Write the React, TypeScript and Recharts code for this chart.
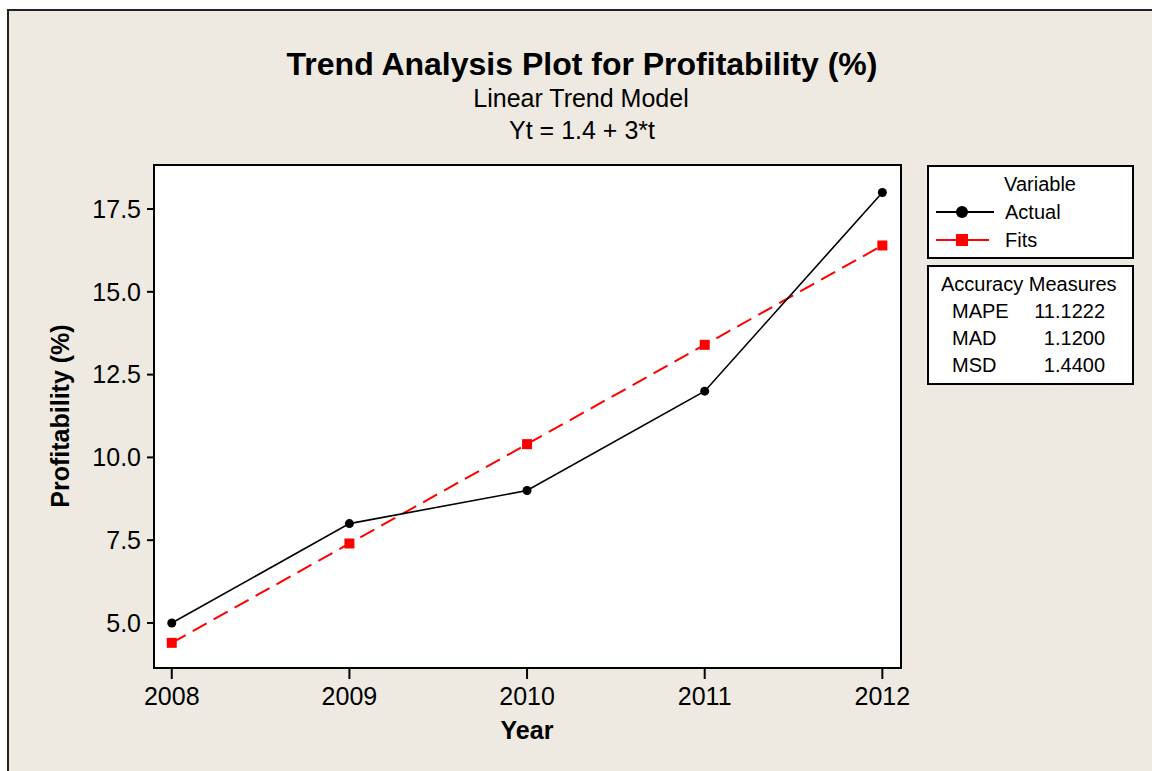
import { LineChart, Line, XAxis, YAxis } from 'recharts';

// values
const years = [2008, 2009, 2010, 2011, 2012];
const actual = [5, 8, 9, 12, 18];
const fits = [4.4, 7.4, 10.4, 13.4, 16.4];
const yTicks = [5, 7.5, 10, 12.5, 15, 17.5];
const accuracyNames = ['MAPE', 'MAD', 'MSD'];
const accuracyValues = ['11.1222', '1.1200', '1.4400'];

const FONT = "'Liberation Sans', Arial, sans-serif";
const BG = '#EEEAE1';

const data = years.map((y, i) => ({ year: y, actual: actual[i], fits: fits[i] }));

const SquareDot = (props: any) => {
    const { cx, cy, index } = props;
    if (cx == null || cy == null) return null;
    return <rect key={`sq-${index}`} x={cx - 5} y={cy - 5} width={10} height={10} fill="#FF0000" />;
};

export default function App() {
    return (
        <div style={{ position: 'absolute', left: 0, top: 0, width: 1152, height: 771, background: '#fff', fontFamily: FONT }}>
            <svg width={1152} height={771} style={{ position: 'absolute', left: 0, top: 0 }}>
                {/* outer frame */}
                <rect x={8} y={10} width={1160} height={780} fill={BG} stroke="#222" strokeWidth={2} />
                {/* plot area */}
                <rect x={154} y={165} width={747} height={503} fill="#fff" stroke="#000" strokeWidth={2} />

                <text x={582} y={75} textAnchor="middle" fontSize={32} fontWeight="bold" fontFamily={FONT}>
                    Trend Analysis Plot for Profitability (%)
                </text>
                <text x={581} y={107} textAnchor="middle" fontSize={25} fontFamily={FONT}>Linear Trend Model</text>
                <text x={582} y={139} textAnchor="middle" fontSize={25} fontFamily={FONT}>Yt = 1.4 + 3*t</text>

                {/* axis titles */}
                <text x={527} y={739} textAnchor="middle" fontSize={25} fontWeight="bold" fontFamily={FONT}>Year</text>
                <text
                    x={0}
                    y={0}
                    transform="translate(69 416) rotate(-90)"
                    textAnchor="middle"
                    fontSize={25}
                    fontWeight="bold"
                    fontFamily={FONT}
                >
                    Profitability (%)
                </text>

                {/* legend */}
                <rect x={928} y={166} width={205} height={92} fill="#fff" stroke="#000" strokeWidth={2} />
                <text x={1040} y={191} textAnchor="middle" fontSize={20} fontFamily={FONT}>Variable</text>
                <line x1={936} x2={994} y1={212} y2={212} stroke="#000" strokeWidth={2} />
                <circle cx={962} cy={212} r={6} fill="#000" />
                <text x={1005} y={219} fontSize={20} fontFamily={FONT}>Actual</text>
                <line x1={936} x2={989} y1={240} y2={240} stroke="#FF0000" strokeWidth={2} />
                <rect x={956} y={234} width={12} height={12} fill="#FF0000" />
                <text x={1005} y={247} fontSize={20} fontFamily={FONT}>Fits</text>

                {/* accuracy measures */}
                <rect x={928} y={266} width={205} height={118} fill="#fff" stroke="#000" strokeWidth={2} />
                <text x={941} y={291} fontSize={20} fontFamily={FONT}>Accuracy Measures</text>
                {accuracyNames.map((n, i) => (
                    <g key={n}>
                        <text x={952} y={318 + i * 27} fontSize={20} fontFamily={FONT}>{n}</text>
                        <text x={1105} y={318 + i * 27} textAnchor="end" fontSize={20} fontFamily={FONT}>{accuracyValues[i]}</text>
                    </g>
                ))}
            </svg>

            <div style={{ position: 'absolute', left: 0, top: 0 }}>
                <LineChart
                    width={1152}
                    height={771}
                    data={data}
                    margin={{ top: 165, right: 251, bottom: 43, left: 94 }}
                >
                    <XAxis
                        dataKey="year"
                        type="number"
                        domain={[2007.9, 2012.105]}
                        ticks={years}
                        allowDataOverflow
                        height={60}
                        tickSize={11}
                        tickMargin={8}
                        axisLine={{ stroke: '#000', strokeWidth: 2 }}
                        tickLine={{ stroke: '#000', strokeWidth: 2 }}
                        tick={{ fill: '#000', fontSize: 25, fontFamily: FONT }}
                    />
                    <YAxis
                        type="number"
                        domain={[3.64, 18.83]}
                        ticks={yTicks}
                        allowDataOverflow
                        width={60}
                        tickSize={7}
                        tickMargin={6}
                        tickFormatter={(v: number) => v.toFixed(1)}
                        axisLine={{ stroke: '#000', strokeWidth: 2 }}
                        tickLine={{ stroke: '#000', strokeWidth: 2 }}
                        tick={{ fill: '#000', fontSize: 25, fontFamily: FONT }}
                    />
                    <Line
                        type="linear"
                        dataKey="fits"
                        stroke="#FF0000"
                        strokeWidth={2}
                        strokeDasharray="16 8"
                        dot={SquareDot}
                        activeDot={false}
                        isAnimationActive={false}
                    />
                    <Line
                        type="linear"
                        dataKey="actual"
                        stroke="#000"
                        strokeWidth={1.6}
                        dot={{ r: 4.5, fill: '#000', stroke: '#000', strokeWidth: 0 }}
                        activeDot={false}
                        isAnimationActive={false}
                    />
                </LineChart>
            </div>
        </div>
    );
}
